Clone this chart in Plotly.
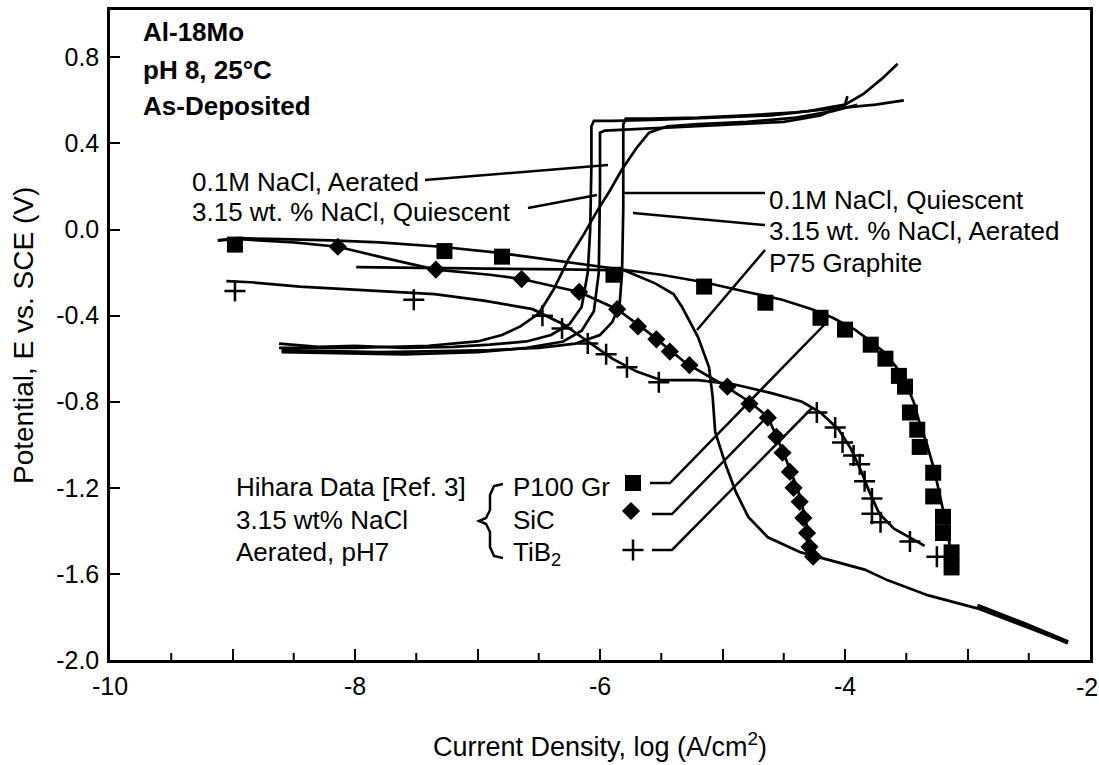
import plotly.graph_objects as go

# ---------------- data ----------------
# Al-18Mo polarization curves (log i, E)
al_aer01_x = [-8.62, -8.3, -8.0, -7.6, -7.2, -6.9, -6.6, -6.4, -6.25, -6.15, -6.1, -6.08, -6.07, -6.07, -6.05, -5.9, -5.5, -5.0, -4.6, -4.3, -4.0, -3.85, -3.7, -3.57]
al_aer01_y = [-0.53, -0.545, -0.54, -0.55, -0.545, -0.535, -0.52, -0.49, -0.44, -0.36, -0.2, 0.0, 0.3, 0.48, 0.505, 0.505, 0.51, 0.52, 0.53, 0.55, 0.58, 0.63, 0.70, 0.77]

al_q01_x = [-8.6, -8.2, -7.8, -7.3, -6.9, -6.5, -6.2, -6.0, -5.9, -5.84, -5.82, -5.81, -5.81, -5.79, -5.6, -5.2, -4.8, -4.4, -4.1, -3.9, -3.75, -3.52]
al_q01_y = [-0.56, -0.565, -0.57, -0.565, -0.56, -0.55, -0.53, -0.49, -0.43, -0.35, -0.2, 0.1, 0.49, 0.515, 0.515, 0.52, 0.53, 0.545, 0.56, 0.57, 0.58, 0.60]

al_q315_x = [-8.6, -8.1, -7.6, -7.0, -6.6, -6.3, -6.15, -6.05, -6.01, -6.0, -6.0, -5.96, -5.6, -5.0, -4.5, -4.2, -4.0, -3.98]
al_q315_y = [-0.57, -0.575, -0.58, -0.57, -0.55, -0.52, -0.47, -0.38, -0.2, 0.2, 0.45, 0.46, 0.47, 0.485, 0.5, 0.53, 0.58, 0.62]

al_aer315_x = [-8.62, -8.0, -7.4, -7.0, -6.8, -6.65, -6.5, -6.38, -6.25, -6.13, -6.03, -5.92, -5.82, -5.7, -5.6, -5.45, -5.2, -4.8, -4.4, -4.1, -3.9]
al_aer315_y = [-0.55, -0.55, -0.54, -0.52, -0.49, -0.45, -0.39, -0.28, -0.13, -0.02, 0.08, 0.18, 0.28, 0.38, 0.45, 0.48, 0.49, 0.50, 0.52, 0.55, 0.58]

# P75 graphite
gr_x = [-7.99, -7.0, -6.3, -5.8, -5.55, -5.4, -5.33, -5.2, -5.11, -5.08, -5.06, -4.97, -4.89, -4.79, -4.63, -4.36, -4.06, -3.84, -3.65, -3.46, -3.32, -2.92, -2.18]
gr_y = [-0.175, -0.18, -0.185, -0.19, -0.25, -0.30, -0.36, -0.50, -0.64, -0.78, -0.94, -1.10, -1.22, -1.335, -1.43, -1.50, -1.545, -1.58, -1.63, -1.67, -1.70, -1.76, -1.92]
gr_wedge_x = [-2.92, -2.55, -2.18]
gr_wedge_y = [-1.748, -1.83, -1.918]

# Hihara data: P100 Gr
p100_line_x = [-9.12, -8.95, -8.6, -8.2, -7.8, -7.3, -6.8, -6.3, -5.9, -5.5, -5.15, -4.8, -4.52, -4.27, -4.1, -3.92, -3.8, -3.68, -3.58, -3.5, -3.44, -3.39, -3.33, -3.27, -3.22, -3.17, -3.13]
p100_line_y = [-0.05, -0.04, -0.045, -0.05, -0.06, -0.08, -0.11, -0.15, -0.18, -0.21, -0.245, -0.29, -0.325, -0.37, -0.41, -0.465, -0.515, -0.57, -0.64, -0.72, -0.80, -0.90, -1.0, -1.12, -1.25, -1.38, -1.52]
p100_pts_x = [-8.98, -7.27, -6.80, -5.89, -5.15, -4.65, -4.20, -4.0, -3.79, -3.67, -3.56, -3.51, -3.47, -3.41, -3.39, -3.28, -3.28, -3.2, -3.2, -3.13, -3.13]
p100_pts_y = [-0.07, -0.10, -0.126, -0.21, -0.265, -0.34, -0.41, -0.465, -0.535, -0.60, -0.68, -0.73, -0.85, -0.93, -1.01, -1.13, -1.24, -1.335, -1.41, -1.50, -1.57]

# Hihara data: SiC
sic_line_x = [-9.12, -8.95, -8.5, -8.14, -7.7, -7.34, -6.9, -6.64, -6.17, -5.86, -5.6, -5.3, -5.0, -4.78, -4.63, -4.56, -4.5, -4.44, -4.39, -4.35, -4.31, -4.27]
sic_line_y = [-0.05, -0.045, -0.06, -0.08, -0.14, -0.186, -0.21, -0.23, -0.29, -0.37, -0.48, -0.62, -0.72, -0.80, -0.87, -0.96, -1.04, -1.13, -1.2, -1.28, -1.38, -1.5]
sic_pts_x = [-8.14, -7.34, -6.64, -6.17, -5.86, -5.69, -5.54, -5.43, -5.27, -4.96, -4.78, -4.63, -4.56, -4.51, -4.45, -4.42, -4.37, -4.34, -4.31, -4.29, -4.26]
sic_pts_y = [-0.08, -0.186, -0.23, -0.29, -0.37, -0.45, -0.51, -0.567, -0.63, -0.73, -0.81, -0.874, -0.963, -1.037, -1.126, -1.2, -1.265, -1.34, -1.41, -1.474, -1.52]

# Hihara data: TiB2
tib_line_x = [-9.05, -8.85, -8.45, -7.65, -7.35, -6.95, -6.55, -6.3, -6.1, -5.9, -5.7, -5.5, -5.2, -4.9, -4.6, -4.35, -4.2, -4.05, -3.95, -3.87, -3.8, -3.72, -3.6, -3.45, -3.35]
tib_line_y = [-0.24, -0.245, -0.265, -0.29, -0.30, -0.33, -0.37, -0.44, -0.52, -0.6, -0.66, -0.70, -0.70, -0.72, -0.76, -0.80, -0.85, -0.93, -1.02, -1.12, -1.22, -1.32, -1.39, -1.44, -1.47]
tib_pts_x = [-8.98, -7.52, -6.47, -6.31, -6.1, -5.95, -5.78, -5.52, -4.23, -4.08, -4.02, -3.93, -3.88, -3.84, -3.78, -3.78, -3.71, -3.47, -3.25]
tib_pts_y = [-0.285, -0.326, -0.40, -0.46, -0.53, -0.58, -0.64, -0.71, -0.85, -0.92, -0.99, -1.05, -1.09, -1.17, -1.25, -1.32, -1.36, -1.45, -1.52]

x_ticks = [-10, -8, -6, -4]
x_ticktext = ["-10", "-8", "-6", "-4"]
x_edge_tick = -2
x_edge_label = "-2"
x_odd_ticks = [-9, -7, -5, -3]
x_half_ticks = [-9.5, -8.5, -7.5, -6.5, -5.5, -4.5, -3.5, -2.5]
y_ticks = [-2.0, -1.6, -1.2, -0.8, -0.4, 0.0, 0.4, 0.8]
y_ticktext = ["-2.0", "-1.6", "-1.2", "-0.8", "-0.4", "0.0", "0.4", "0.8"]

# ---------------- layout helpers (pixel -> coordinates) ----------------
W, H = 1099, 765
L, R, T, B = 110, 1090, 10, 660
XMIN, XMAX, YMIN, YMAX = -10.0, -2.0, -2.0, 1.02


def dx(p):
    return XMIN + (p - L) / (R - L) * (XMAX - XMIN)


def dy(p):
    return YMAX - (p - T) / (B - T) * (YMAX - YMIN)


def px_(p):
    return (p - L) / (R - L)


def py_(p):
    return (B - p) / (B - T)


FONT = "Liberation Sans, Arial, Helvetica, sans-serif"
LW = 2.7
K = "black"

fig = go.Figure()


def line(x, y, w=LW):
    fig.add_trace(go.Scatter(x=x, y=y, mode="lines", line=dict(color=K, width=w),
                             showlegend=False, hoverinfo="skip"))


def pts(x, y, symbol, size, lw=0):
    fig.add_trace(go.Scatter(x=x, y=y, mode="markers",
                             marker=dict(symbol=symbol, size=size, color=K,
                                         line=dict(color=K, width=lw)),
                             showlegend=False, hoverinfo="skip"))


line(al_aer01_x, al_aer01_y)
line(al_q01_x, al_q01_y)
line(al_q315_x, al_q315_y)
line(al_aer315_x, al_aer315_y)
line(gr_x, gr_y)
line(gr_wedge_x, gr_wedge_y, 4.5)
line(p100_line_x, p100_line_y)
line(sic_line_x, sic_line_y)
line(tib_line_x, tib_line_y)
pts(p100_pts_x, p100_pts_y, "square", 16)
pts(sic_pts_x, sic_pts_y, "diamond", 14)
pts(tib_pts_x, tib_pts_y, "cross-thin", 15, 2.5)

# legend keys for the Hihara data
pts([dx(633)], [dy(483)], "square", 16)
pts([dx(631)], [dy(511)], "diamond", 14)
pts([dx(633)], [dy(550)], "cross-thin", 15, 2.5)

shapes = []


def seg(pts_px, w=2.5):
    path = "M " + " L ".join(f"{dx(a)},{dy(b)}" for a, b in pts_px)
    shapes.append(dict(type="path", path=path, xref="x", yref="y",
                       line=dict(color=K, width=w)))


# leader lines
seg([(425, 180), (608, 165)])
seg([(528, 208), (597, 195)])
seg([(622, 193), (765, 193)])
seg([(633, 213), (765, 225)])
seg([(697, 330), (765, 250)])
seg([(650, 483), (670, 483), (827, 322)])
seg([(652, 514), (672, 514), (768, 416)])
seg([(652, 550), (672, 550), (812, 408)])

# brace
brace = [(503, 484), (494, 486), (490, 495), (490, 510), (486, 518), (479, 521),
         (486, 524), (490, 532), (490, 547), (494, 556), (503, 558)]
seg(brace, 2.5)

# short (half-unit) tick marks on the x axis, drawn inside the frame
for v in x_half_ticks:
    shapes.append(dict(type="line", xref="x", yref="y domain", x0=v, x1=v,
                       y0=0, y1=7 / (B - T), line=dict(color=K, width=2)))

fig.update_layout(shapes=shapes)

ann = []


def text(s, x, y, size=26, bold=False, anchor="left"):
    ann.append(dict(text=f"<b>{s}</b>" if bold else s, x=px_(x), y=py_(y),
                    xref="paper", yref="paper", xanchor=anchor, yanchor="middle",
                    showarrow=False, font=dict(family=FONT, size=size, color=K)))


text("Al-18Mo", 141, 32, 26, True)
text("pH 8, 25°C", 141, 70, 26, True)
text("As-Deposited", 141, 106, 26, True)
text("0.1M NaCl, Aerated", 190, 182)
text("3.15 wt. % NaCl, Quiescent", 190, 212)
text("0.1M NaCl, Quiescent", 767, 200)
text("3.15 wt. % NaCl, Aerated", 767, 231)
text("P75 Graphite", 767, 263)
text("Hihara Data [Ref. 3]", 234, 487)
text("3.15 wt% NaCl", 234, 520)
text("Aerated, pH7", 234, 552)
text("P100 Gr", 511, 487)
text("SiC", 511, 520)
text("TiB<sub>2</sub>", 511, 553)

# the last x tick label sits on the right frame edge
ann.append(dict(text=x_edge_label, x=x_edge_tick, xref="x", y=py_(687), yref="paper",
                xanchor="center", yanchor="middle", xshift=-3, showarrow=False,
                font=dict(family=FONT, size=25, color=K)))

ann.append(dict(text="Current Density, log (A/cm<sup>2</sup>)", x=px_(600), y=py_(745),
                xref="paper", yref="paper", xanchor="center", yanchor="middle",
                showarrow=False, font=dict(family=FONT, size=27, color=K)))
ann.append(dict(text="Potential, E vs. SCE (V)", x=px_(24), y=py_(336),
                xref="paper", yref="paper", xanchor="center", yanchor="middle",
                textangle=-90, showarrow=False, font=dict(family=FONT, size=28, color=K)))

fig.update_layout(
    width=W, height=H,
    margin=dict(l=L, r=W - R, t=T, b=H - B, pad=0, autoexpand=False),
    paper_bgcolor="white", plot_bgcolor="white",
    annotations=ann,
    font=dict(family=FONT, size=25, color=K),
    xaxis=dict(range=[XMIN, XMAX], tickvals=x_ticks, ticktext=x_ticktext,
               ticks="inside", ticklen=11, tickwidth=2, tickcolor=K,
               minor=dict(tickvals=x_odd_ticks, ticks="inside", ticklen=11, tickwidth=2, tickcolor=K),
               showline=True, linewidth=2.5, linecolor=K, mirror=True,
               showgrid=False, zeroline=False, ticklabelstandoff=2, automargin=False,
               tickfont=dict(family=FONT, size=25, color=K)),
    yaxis=dict(range=[YMIN, YMAX], tickvals=y_ticks, ticktext=y_ticktext,
               ticks="inside", ticklen=10, tickwidth=2, tickcolor=K,
               showline=True, linewidth=2.5, linecolor=K, mirror=True,
               showgrid=False, zeroline=False, ticklabelstandoff=3, automargin=False,
               tickfont=dict(family=FONT, size=25, color=K)),
)

fig.write_html("out.html", config={"displayModeBar": False},
               post_script="document.body.style.margin='0px';")
